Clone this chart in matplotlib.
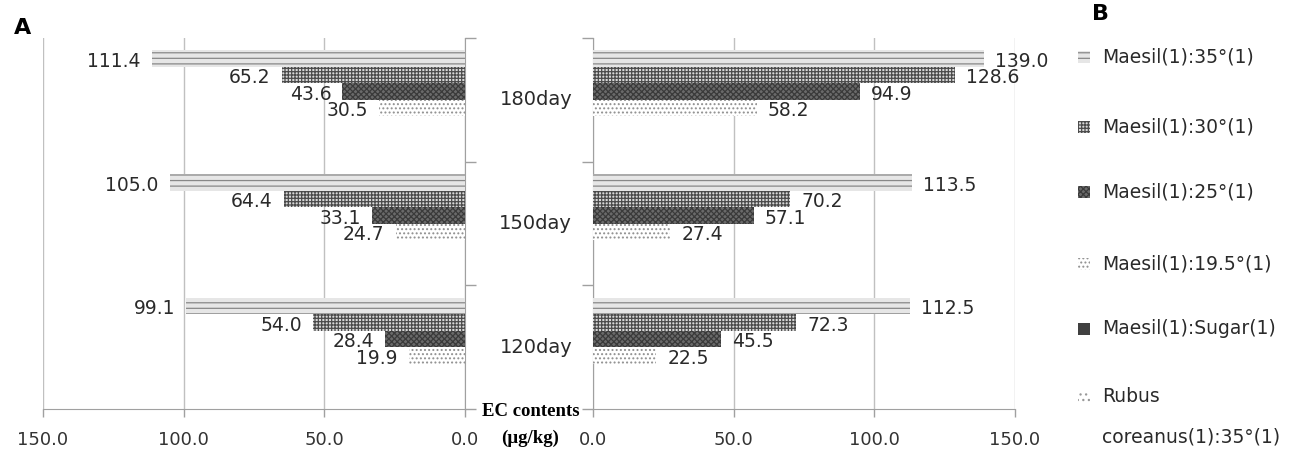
"""
EC contents by storage day, two mirrored bar panels
"""
from matplotlib import pyplot as plt
from matplotlib.patches import Rectangle
import numpy as np

plt.rcParams['font.family'] = ['DejaVu Sans']
plt.rcParams['hatch.linewidth'] = 0.9

days = ['120day', '150day', '180day']
series = ['Maesil(1):35°(1)', 'Maesil(1):30°(1)', 'Maesil(1):25°(1)',
          'Maesil(1):19.5°(1)', 'Maesil(1):Sugar(1)', 'Rubus\ncoreanus(1):35°(1)']

# panel A (values per day: 120, 150, 180)
a_35 = [99.1, 105.0, 111.4]
a_30 = [54.0, 64.4, 65.2]
a_25 = [28.4, 33.1, 43.6]
a_195 = [19.9, 24.7, 30.5]

# panel B
b_35 = [112.5, 113.5, 139.0]
b_30 = [72.3, 70.2, 128.6]
b_25 = [45.5, 57.1, 94.9]
b_195 = [22.5, 27.4, 58.2]

ticks = [0, 50, 100, 150]

# look of each series: (face, hatch colour, hatch)
styles = [
    ('#e6e6e6', '#888888', '---'),
    ('#d8d8d8', '#4a4a4a', '+++++'),
    ('#6a6a6a', '#3a3a3a', 'xxxxxx'),
    ('white', '#8f8f8f', '....'),
    ('#404040', '#404040', ''),
    ('white', '#999999', '...'),
]

W, H = 1297, 453
fig = plt.figure(figsize=(W / 100, H / 100), dpi=100)
axA = fig.add_axes([43 / W, 1 - 409 / H, 422 / W, 371 / H])
axB = fig.add_axes([593 / W, 1 - 409 / H, 422 / W, 371 / H])

slot = 0.8 / 6
y = np.arange(len(days))


def draw_panel(ax, data, side):
    for i, vals in enumerate(data):
        face, hc, hatch = styles[i]
        pos = y + 0.4 - (i + 0.5) * slot
        ax.barh(pos, vals, height=slot, color=face, edgecolor=hc,
                hatch=hatch, linewidth=0, zorder=3)
        for p, v in zip(pos, vals):
            ax.annotate('%.1f' % v, (v, p), xytext=(8 * side, -2),
                        textcoords='offset points', fontsize=13.5,
                        color='#2a2a2a',
                        ha='left' if side > 0 else 'right', va='center')
    ax.set_xlim(0, 150)
    ax.set_ylim(-0.5, 2.5)
    ax.set_xticks(ticks)
    ax.set_xticklabels(['%.1f' % t for t in ticks], fontsize=13, color='#333333')
    ax.tick_params(axis='x', length=6, width=1, color='#a0a0a0', pad=10)
    ax.set_yticks(np.arange(-0.5, 3, 1))
    ax.set_yticklabels([])
    ax.tick_params(axis='y', length=8, width=1, color='#a0a0a0')
    ax.grid(axis='x', color='#c0c0c0', linewidth=1, zorder=0)
    ax.spines['top'].set_visible(False)
    for s in ax.spines.values():
        s.set_color('#a0a0a0')


draw_panel(axA, [a_35, a_30, a_25, a_195], -1)
axA.invert_xaxis()
axA.spines['left'].set_visible(False)
axA.yaxis.tick_right()

draw_panel(axB, [b_35, b_30, b_25, b_195], 1)
axB.spines['right'].set_visible(False)

# day names sit between the two panels
for yy, d in zip(y, days):
    axB.annotate(d, (0, yy), xytext=(-15, 0), textcoords='offset points',
                 xycoords=axB.get_yaxis_transform(), ha='right', va='center',
                 fontsize=14, color='#2a2a2a')

fig.text(531 / W, 1 - 412 / H, 'EC contents', ha='center', va='center',
         family='Liberation Serif', fontweight='bold', fontsize=13.5)
fig.text(530 / W, 1 - 438 / H, '(µg/kg)', ha='center', va='center',
         family='Liberation Serif', fontweight='bold', fontsize=13.5)

fig.text(23 / W, 1 - 28 / H, 'A', ha='center', va='center',
         fontweight='bold', fontsize=16)
fig.text(1101 / W, 1 - 14 / H, 'B', ha='center', va='center',
         fontweight='bold', fontsize=16)

# legend drawn by hand so the two-line entry keeps its box on the first line
rows = [57, 127, 192, 264, 329, 397]
for (face, hc, hatch), name, r in zip(styles, series, rows):
    fig.patches.append(Rectangle((1078 / W, 1 - (r + 6) / H), 12 / W, 12 / H,
                                 transform=fig.transFigure, facecolor=face,
                                 edgecolor=hc, hatch=hatch, linewidth=0))
    for k, ln in enumerate(name.split('\n')):
        fig.text(1102 / W, 1 - (r + 40 * k) / H, ln, ha='left', va='center',
                 fontsize=13.5, color='#2a2a2a')

fig.savefig('out.png', dpi=100)
